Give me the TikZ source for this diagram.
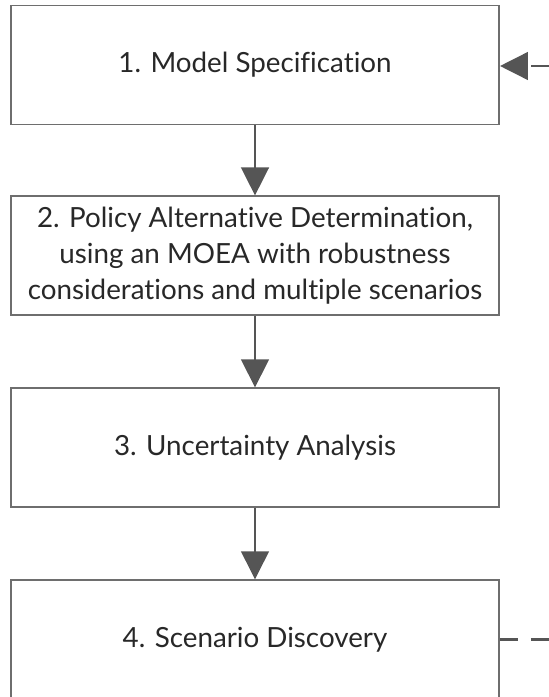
\documentclass[tikz,border=0pt]{standalone}
\usepackage{fontspec}
\setmainfont{Lato}[Ligatures=NoCommon]
\usepackage{tikz}
\usetikzlibrary{positioning, arrows.meta}
\definecolor{boxline}{RGB}{110,110,110}
\definecolor{flowgray}{RGB}{85,85,85}
\definecolor{textdark}{RGB}{40,40,40}
\tikzset{
  stage/.style={
    draw=boxline, line width=1.1pt, fill=white, text=textdark,
    minimum width=9.76cm, minimum height=2.38cm, align=center,
    inner sep=4pt, font=\fontsize{15.8}{20.5}\selectfont
  },
  flow/.style={-{Triangle[length=0.56cm, width=0.55cm]}, line width=1.7pt, flowgray},
  feedback/.style={flow, dash pattern=on 0.36cm off 0.26cm}
}
\begin{document}
\begin{tikzpicture}[node distance=1.42cm]
  \useasboundingbox (0,0) rectangle (10.98,-13.94);
  \node[stage] (spec) at (5.10,-1.30) {1. Model Specification};
  \node[stage, below=1.40cm of spec] (policy) {2. Policy Alternative Determination,\\using an MOEA with robustness\\considerations and multiple scenarios};
  \node[stage, below=of policy] (unc) {3. Uncertainty Analysis};
  \node[stage, below=of unc] (disc) {4. Scenario Discovery};
  \coordinate (edgein) at (10.98,-1.32);
  \coordinate (edgeout) at (disc.east -| edgein);

  \draw[flow] (spec) -- (policy);
  \draw[flow] (policy) -- (unc);
  \draw[flow] (unc) -- (disc);
  % loop back, runs off the right edge
  \draw[line width=1.7pt, flowgray, dash pattern=on 0.36cm off 0.26cm] (disc.east) -- (edgeout);
  \draw[feedback] (edgein) -- (spec.east |- edgein);
\end{tikzpicture}
\end{document}
